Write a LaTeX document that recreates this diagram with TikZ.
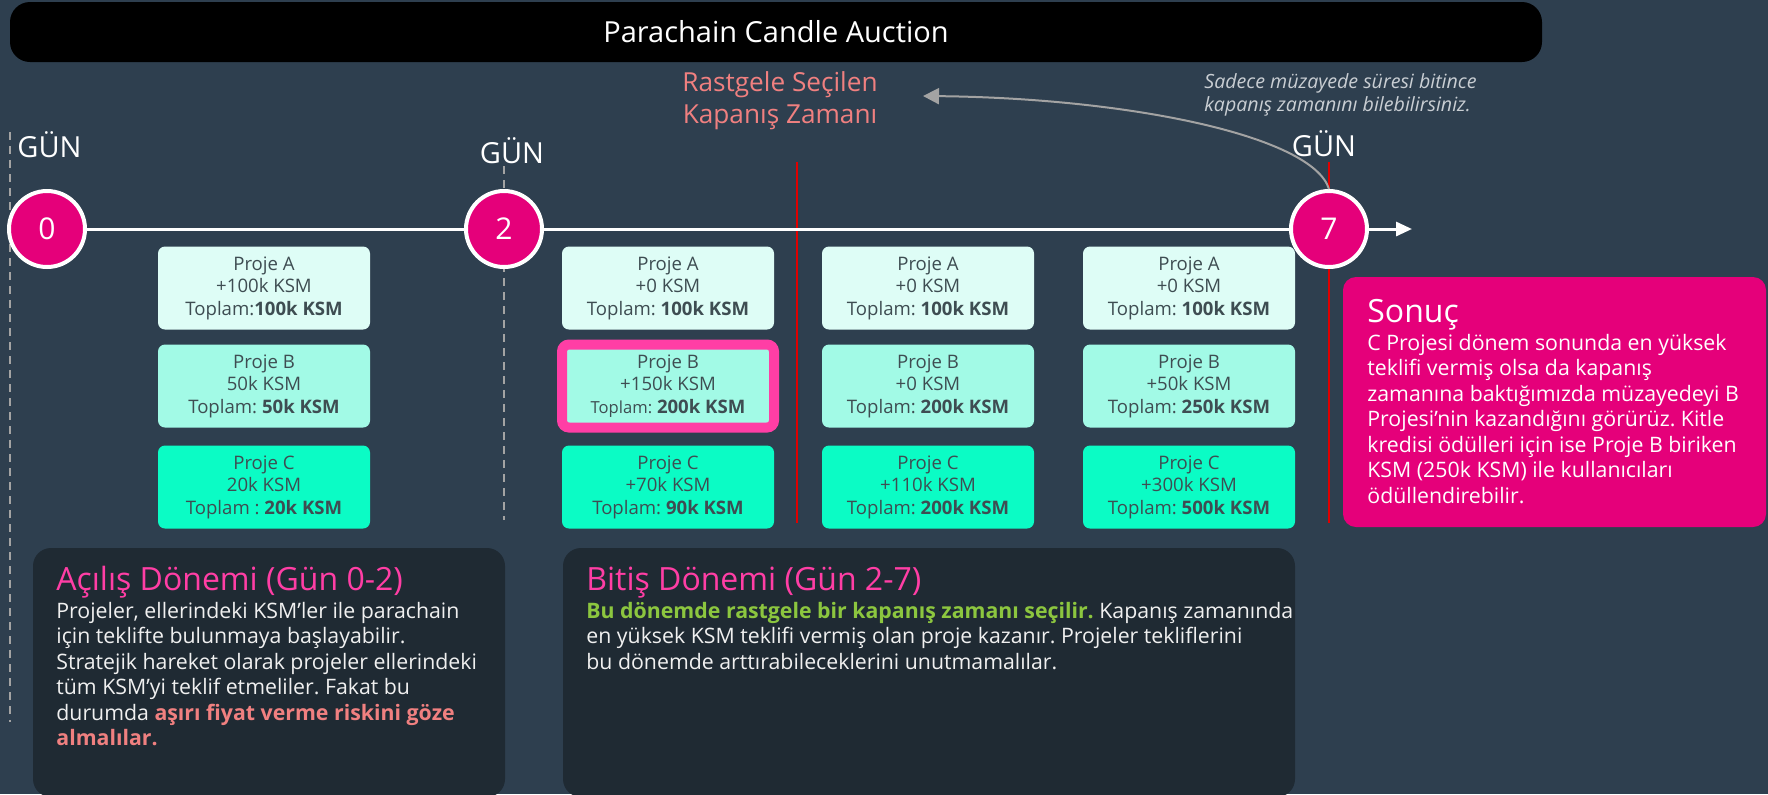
\documentclass[tikz,border=0pt]{standalone}
\usepackage{fontspec}
\setmainfont{Open Sans}
\frenchspacing
\usetikzlibrary{arrows.meta,positioning}

\definecolor{slate}{HTML}{2E3F4F}
\definecolor{panelbg}{HTML}{1F2A33}
\definecolor{dotpink}{HTML}{E5007A}
\definecolor{hotpink}{HTML}{FF3EA5}
\definecolor{salmon}{HTML}{F08080}
\definecolor{limegreen}{HTML}{8CC63F}
\definecolor{bidA}{HTML}{DEFDF6}
\definecolor{bidB}{HTML}{A2FAE6}
\definecolor{bidC}{HTML}{0BFCC5}
\definecolor{bidtext}{HTML}{3E4D52}
\definecolor{notegray}{HTML}{C9CED3}
\definecolor{dashgray}{HTML}{A3A3A3}
\definecolor{cutred}{HTML}{E10000}

\begin{document}
\begin{tikzpicture}[x=0.5pt, y=-0.5pt,
  bid/.style={rounded corners=3.5pt, minimum width=106pt, minimum height=41.5pt, inner sep=0pt,
              align=center, text=bidtext, font=\fontsize{9.3}{11.25}\selectfont},
  winner/.style={draw=hotpink, line width=5pt},
  day/.style={circle, draw=white, line width=2pt, fill=dotpink, minimum size=38pt, inner sep=0pt,
              text=white, font=\fontsize{15}{15}\selectfont},
  gun/.style={anchor=base, inner sep=0pt, text=white, font=\fontsize{14.5}{14.5}\selectfont},
  tl/.style={white, line width=1.5pt},
  cutline/.style={cutred, line width=1pt},
  guide/.style={dashgray, line width=1pt, dash pattern=on 4pt off 3pt},
  phead/.style={anchor=base west, inner sep=0pt, text=hotpink, font=\fontsize{16}{16}\selectfont},
  para/.style={anchor=base west, align=left, inner sep=0pt, text=white!94!black,
               font=\fontsize{10.65}{12.75}\selectfont}
]
  \fill[slate] (0,0) rectangle (1768,794);
  \useasboundingbox (0,0) rectangle (1768,794);

  % title bar
  \node[fill=black, rounded corners=10pt, minimum width=766pt, minimum height=30pt, text=white,
        font=\fontsize{14.5}{14.5}\selectfont] (title) at (776,32) {Parachain Candle Auction};

  % guide lines
  \coordinate (dash0-top) at (10,132);
  \coordinate (dash0-bot) at (10,722);
  \coordinate (dash2-top) at (504,166);
  \coordinate (dash2-bot) at (504,520);
  \coordinate (cut1-top) at (797,162);
  \coordinate (cut1-bot) at (797,523);
  \coordinate (cut2-top) at (1329,162);
  \coordinate (cut2-bot) at (1329,523);
  \draw[guide] (dash0-top) -- (dash0-bot);
  \draw[guide] (dash2-top) -- (dash2-bot);
  \draw[cutline] (cut1-top) -- (cut1-bot);
  \draw[cutline] (cut2-top) -- (cut2-bot);

  % timeline
  \node[day] (day0) at (47,229) {0};
  \node[day] (day2) at (504,229) {2};
  \node[day] (day7) at (1329,229) {7};
  \coordinate (tl-end) at (1412,229);
  \draw[tl] (day0) -- (day2);
  \draw[tl] (day2) -- (day7);
  \draw[tl, -{Triangle[length=8pt, width=7pt]}] (day7) -- (tl-end);

  \node[gun, anchor=base west] (gun0) at (17,157) {GÜN};
  \node[gun] (gun2) at (512,163) {GÜN};
  \node[gun] (gun7) at (1324,156) {GÜN};

  % closing time (multi-line nodes sit on their last baseline)
  \node[anchor=base, align=center, inner sep=0pt, text=salmon, font=\fontsize{13.1}{16}\selectfont]
    (random-close) at (780,123) {Rastgele Seçilen\\Kapanış Zamanı};
  \node[anchor=base west, align=left, inner sep=0pt, text=notegray, font=\itshape\fontsize{9.8}{11.5}\selectfont]
    (note) at (1204,111) {Sadece müzayede süresi bitince\\kapanış zamanını bilebilirsiniz.};
  \coordinate (note-tip) at (923,96);
  \draw[dashgray, line width=1pt, -{Triangle[length=8pt, width=8pt]}]
    (day7.north) .. controls (1312,135) and (1125,98) .. (note-tip);

  % bids
  \node[bid, fill=bidA] (a0) at (264,288) {Proje A\\+100k KSM\\Toplam:\textbf{100k KSM}};
  \node[bid, fill=bidB] (b0) at (264,386) {Proje B\\50k KSM\\Toplam: \textbf{50k KSM}};
  \node[bid, fill=bidC] (c0) at (264,487) {Proje C\\20k KSM\\Toplam : \textbf{20k KSM}};

  \node[bid, fill=bidA] (a1) at (668,288) {Proje A\\+0 KSM\\Toplam: \textbf{100k KSM}};
  \node[bid, fill=bidB, winner] (b1) at (668,386) {Proje B\\+150k KSM\\{\fontsize{8.3}{11.25}\selectfont Toplam:} \textbf{200k KSM}};
  \node[bid, fill=bidC] (c1) at (668,487) {Proje C\\+70k KSM\\Toplam: \textbf{90k KSM}};

  \node[bid, fill=bidA] (a2) at (928,288) {Proje A\\+0 KSM\\Toplam: \textbf{100k KSM}};
  \node[bid, fill=bidB] (b2) at (928,386) {Proje B\\+0 KSM\\Toplam: \textbf{200k KSM}};
  \node[bid, fill=bidC] (c2) at (928,487) {Proje C\\+110k KSM\\Toplam: \textbf{200k KSM}};

  \node[bid, fill=bidA] (a3) at (1189,288) {Proje A\\+0 KSM\\Toplam: \textbf{100k KSM}};
  \node[bid, fill=bidB] (b3) at (1189,386) {Proje B\\+50k KSM\\Toplam: \textbf{250k KSM}};
  \node[bid, fill=bidC] (c3) at (1189,487) {Proje C\\+300k KSM\\Toplam: \textbf{500k KSM}};

  % result
  \fill[dotpink, rounded corners=6.5pt] (1343,277) rectangle (1766,527);
  \node[phead, text=white] (result-head) at (1367,322) {Sonuç};
  \node[para, text=white] (result-text) at (1367,503)
    {C Projesi dönem sonunda en yüksek\\
     teklifi vermiş olsa da kapanış\\
     zamanına baktığımızda müzayedeyi B\\
     Projesi’nin kazandığını görürüz. Kitle\\
     kredisi ödülleri için ise Proje B biriken\\
     KSM (250k KSM) ile kullanıcıları\\
     ödüllendirebilir.};

  % periods
  \fill[panelbg, rounded corners=9pt] (33,548) rectangle (505,797);
  \fill[panelbg, rounded corners=9pt] (563,548) rectangle (1295,797);

  \node[phead] (open-head) at (56,590) {Açılış Dönemi (Gün 0-2)};
  \node[para] (open-text) at (56,745.5)
    {Projeler, ellerindeki KSM’ler ile parachain\\
     için teklifte bulunmaya başlayabilir.\\
     Stratejik hareket olarak projeler ellerindeki\\
     tüm KSM’yi teklif etmeliler. Fakat bu\\
     durumda {\color{salmon}\bfseries aşırı fiyat verme riskini göze}\\
     {\color{salmon}\bfseries almalılar.}};

  \node[phead] (end-head) at (586,590) {Bitiş Dönemi (Gün 2-7)};
  \node[para] (end-text) at (586,669)
    {{\color{limegreen}\bfseries Bu dönemde rastgele bir kapanış zamanı seçilir.} Kapanış zamanında\\
     en yüksek KSM teklifi vermiş olan proje kazanır. Projeler tekliflerini\\
     bu dönemde arttırabileceklerini unutmamalılar.};
\end{tikzpicture}
\end{document}
